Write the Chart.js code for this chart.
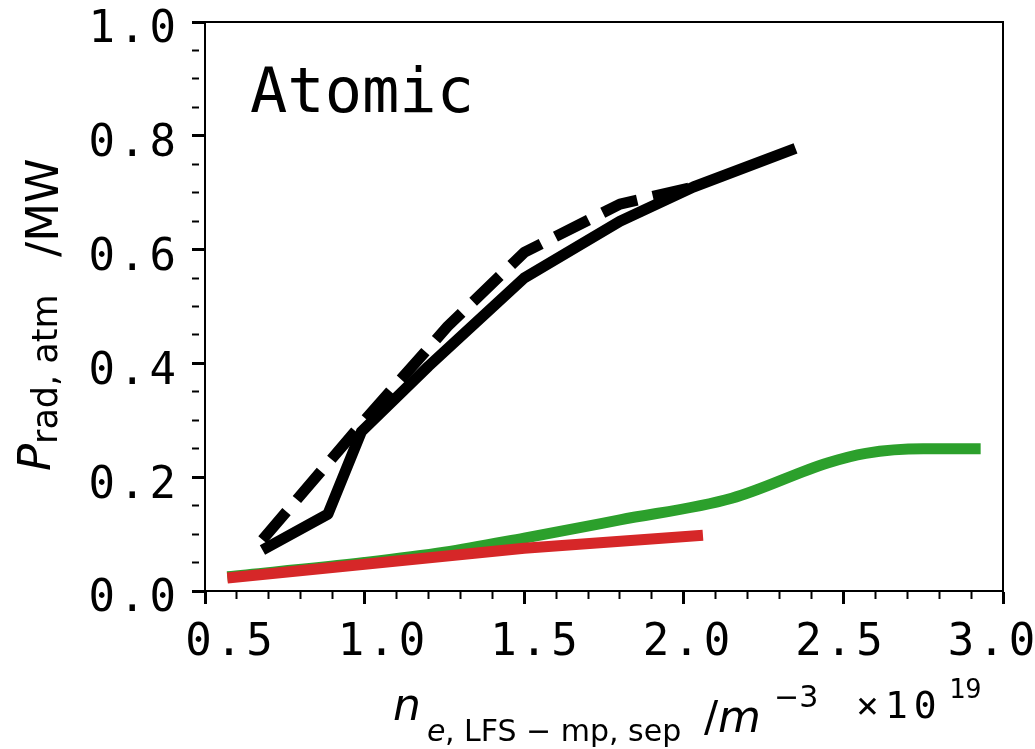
<!DOCTYPE html>
<html>
<head>
<meta charset="utf-8">
<script src="https://cdn.jsdelivr.net/npm/chart.js@4.4.1/dist/chart.umd.min.js"></script>
<style>
  body { margin: 0; background: #fff; }
  #wrap { position: relative; width: 1035px; height: 749px; }
  .t { position: absolute; white-space: nowrap; line-height: 1; color: #000; font-family: "DejaVu Sans"; }
  .mono { font-family: "DejaVu Sans Mono"; }
  .it { font-style: italic; }
  #ytitle { position: absolute; left: 0; top: 0; width: 0; height: 0; transform-origin: 0 0; transform: rotate(-90deg); }
</style>
</head>
<body>
<div id="wrap">
  <canvas id="chart"></canvas>
  <div class="t mono" id="atomic">Atomic</div>
  <div id="ytitle"></div>
  <div id="xtitle"></div>
</div>
<script>
// axis ranges and tick labels
const xRange = [0.5, 3.0];
const yRange = [0.0, 1.0];
const xTickLabels = [0.5, 1.0, 1.5, 2.0, 2.5, 3.0];

// black solid
const solidNe = [0.68, 0.885, 0.99, 1.2, 1.5, 1.8, 2.03, 2.35];
const solidP  = [0.072, 0.135, 0.28, 0.395, 0.55, 0.65, 0.71, 0.778];
// black dashed
const dashNe = [0.68, 1.0, 1.26, 1.5, 1.8, 2.03];
const dashP  = [0.09, 0.30, 0.465, 0.595, 0.68, 0.71];
// green
const greenNe = [0.57, 1.0, 1.25, 1.5, 1.8, 2.15, 2.45, 2.57, 2.75, 2.93];
const greenP  = [0.025, 0.05, 0.068, 0.093, 0.125, 0.163, 0.225, 0.242, 0.25, 0.25];
// red
const redNe = [0.57, 1.0, 1.5, 2.06];
const redP  = [0.023, 0.047, 0.075, 0.098];

const pts = (xs, ys) => xs.map((x, i) => ({x: x, y: ys[i]}));
const isMult = (v, s) => Math.abs(v / s - Math.round(v / s)) < 1e-6;

const MONO = '"DejaVu Sans Mono"';
const LS = '4px';

// frame round the plot + letter spacing for tick labels only
const framePlugin = {
  id: 'frame',
  beforeDraw(chart) { chart.ctx.letterSpacing = LS; },
  beforeDatasetsDraw(chart) { chart.ctx.letterSpacing = '0px'; },
  afterDatasetsDraw(chart) {
    const a = chart.chartArea, ctx = chart.ctx;
    ctx.save();
    ctx.strokeStyle = '#000';
    ctx.lineWidth = 2;
    ctx.strokeRect(a.left, a.top, a.right - a.left, a.bottom - a.top);
    ctx.restore();
  }
};

function line(data, color, dash) {
  return {
    data: data, showLine: true, borderColor: color, backgroundColor: color,
    borderWidth: 11, borderDash: dash || [], pointRadius: 0,
    borderCapStyle: 'butt', borderJoinStyle: 'round', fill: false
  };
}

const green = line(pts(greenNe, greenP), '#2ca02c');
green.cubicInterpolationMode = 'monotone';

const tickGrid = (stepMajor) => ({
  drawOnChartArea: false, drawTicks: true, tickLength: 13, tickColor: '#000',
  tickWidth: c => isMult(c.tick.value, stepMajor) ? 3 : 2,
  tickBorderDash: c => isMult(c.tick.value, stepMajor) ? [] : [7, 40]
});

new Chart(document.getElementById('chart'), {
  type: 'scatter',
  data: {
    datasets: [
      line(pts(solidNe, solidP), '#000000'),
      line(pts(dashNe, dashP), '#000000', [37, 16]),
      line(pts(redNe, redP), '#d62728'),
      green
    ]
  },
  options: {
    responsive: true, maintainAspectRatio: false, animation: false,
    layout: { padding: { left: 0, right: 32, top: 22, bottom: 0 } },
    plugins: { legend: { display: false }, tooltip: { enabled: false } },
    scales: {
      x: {
        type: 'linear', position: 'bottom', min: xRange[0], max: xRange[1],
        grid: tickGrid(0.5),
        border: { display: true, color: '#000', width: 2 },
        ticks: { display: false, stepSize: 0.1, autoSkip: false },
        afterFit(s) { s.paddingLeft = 0; s.paddingRight = 0; s.height = 13; }
      },
      xl: {
        type: 'linear', position: 'bottom', weight: 1,
        min: 0.415, max: 3.031,
        afterBuildTicks(s) { s.ticks = xTickLabels.map(v => ({value: v})); },
        grid: { display: false, drawTicks: false },
        border: { display: false },
        ticks: {
          autoSkip: false, maxRotation: 0, padding: 13, color: '#000',
          font: { family: MONO, size: 44 },
          callback: v => v.toFixed(1)
        },
        afterFit(s) { s.paddingLeft = 0; s.paddingRight = 0; s.height = 145; }
      },
      y: {
        type: 'linear', position: 'left', min: yRange[0], max: yRange[1],
        grid: tickGrid(0.2),
        border: { display: true, color: '#000', width: 2 },
        ticks: {
          stepSize: 0.05, autoSkip: false, padding: 12, color: '#000', labelOffset: 9,
          font: { family: MONO, size: 44 },
          callback: v => isMult(v, 0.2) ? v.toFixed(1) : ''
        },
        afterFit(s) { s.width = 205; s.paddingTop = 0; s.paddingBottom = 0; }
      }
    }
  },
  plugins: [framePlugin]
});

// text overlays (real text, with sub/superscripts)
const ASC = 0.846; // baseline offset inside a line-height:1 box (DejaVu)
function put(parent, text, cls, size, left, baseline) {
  const d = document.createElement('div');
  d.className = 't ' + cls;
  d.style.fontSize = size + 'px';
  d.textContent = text;
  d.style.left = left + 'px';
  d.style.top = (baseline - ASC * size) + 'px';
  parent.appendChild(d);
  return d;
}

const atomic = document.getElementById('atomic');
atomic.style.fontSize = '62px';
atomic.style.left = '250px';
atomic.style.top = (112 - ASC * 62) + 'px';

// y title, rotated: left = -screenY(start), baseline = screen x
const yt = document.getElementById('ytitle');
put(yt, 'P', 'it', 45, -471, 50);
put(yt, 'rad, atm', '', 35, -444, 58);
put(yt, '/MW', '', 45, -257, 58);

// x title
const xt = document.getElementById('xtitle');
put(xt, 'n', 'it', 44, 393, 720);
put(xt, 'e', 'it', 30, 427, 741);
put(xt, ', LFS \u2212 mp, sep', '', 30, 445, 741);
put(xt, '/', '', 42, 704, 732);
put(xt, 'm', 'it', 44, 718, 732);
put(xt, '\u22123', '', 30, 774, 707);
put(xt, '\u00d710', 'mono', 38, 856, 718).style.letterSpacing = '6px';
put(xt, '19', 'mono', 27, 949, 698);
</script>
</body>
</html>
